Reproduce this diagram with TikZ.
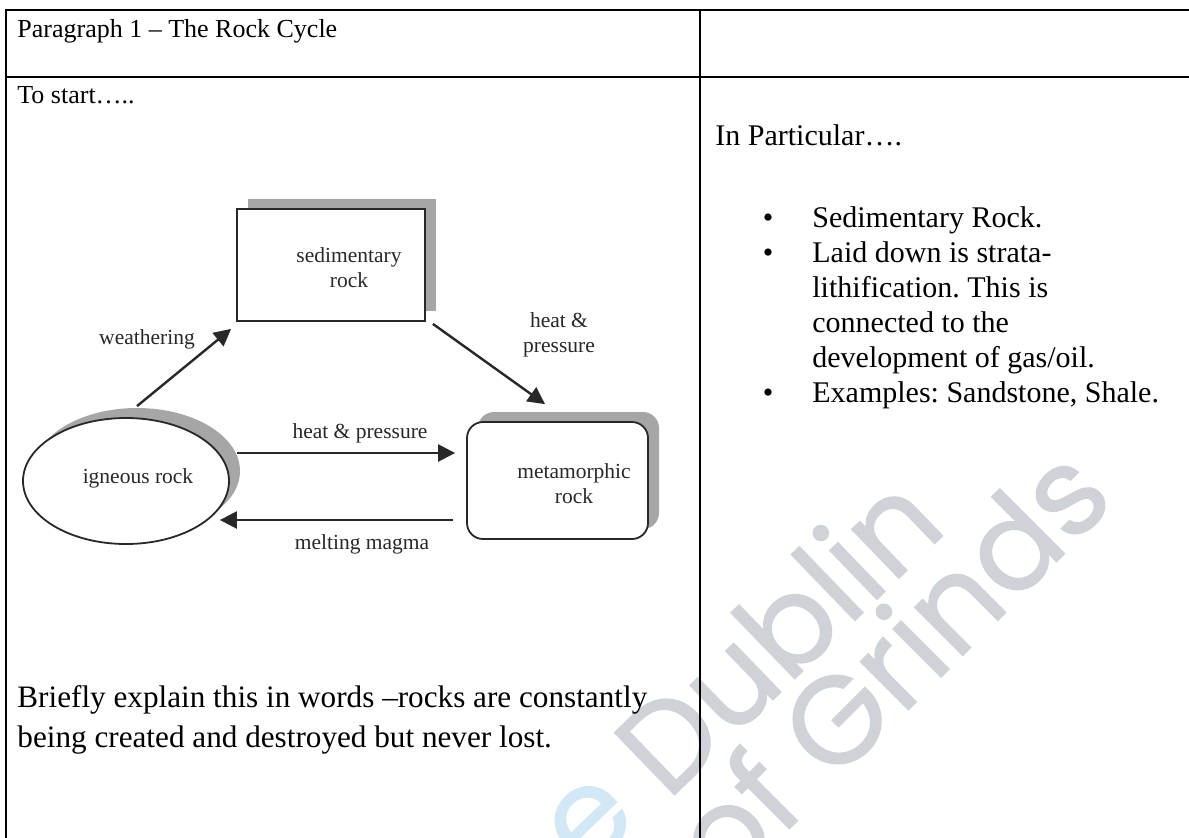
\documentclass[tikz,border=0pt]{standalone}
\usepackage{fontspec}
\setmainfont{Liberation Serif}
\newfontfamily\wmfont{Poppins}[FakeBold=1]
\usetikzlibrary{arrows.meta,shadows,calc,shapes.geometric}
\definecolor{wmgray}{RGB}{207,210,215}
\definecolor{wmblue}{RGB}{210,232,247}
\definecolor{shgray}{RGB}{166,166,166}
\definecolor{ink}{RGB}{40,40,40}
\frenchspacing
\begin{document}
\begin{tikzpicture}[x={(0.5pt,0)}, y={(0,-0.5pt)},
  rule/.style={line width=1.3pt, black},
  txtA/.style={font=\fontsize{13}{15}\selectfont, anchor=base west, inner sep=0pt},
  txtB/.style={font=\fontsize{15}{17.5}\selectfont, anchor=base west, inner sep=0pt},
  txtC/.style={font=\fontsize{15.6}{18}\selectfont, anchor=base west, inner sep=0pt},
  bul/.style={font=\fontsize{15}{17.5}\selectfont, anchor=base, inner sep=0pt},
  dlab/.style={font=\fontsize{10.75}{12.5}\selectfont, text=ink, inner sep=0pt, align=center},
  rockbox/.style={draw=ink, line width=0.9pt, fill=white, inner sep=0pt,
    general shadow={fill=shgray, shadow xshift=5.5pt, shadow yshift=5pt}},
  arr/.style={draw=ink, line width=1.2pt, -{Triangle[length=8.5pt,width=8.5pt]}},
  wm/.style={font=\wmfont\fontsize{62}{62}\selectfont, text=wmgray, rotate=44, inner sep=0pt}
]
\clip (0,0) rectangle (1189,837);
\fill[white] (0,0) rectangle (1189,837);

% watermark
\node[wm] (wmD) at (776,632) {Dublin};
\node[wm, rotate=1] (wmG) at (888,664) {of Grinds};
\node[wm, text=wmblue] (wmE) at (590,822) {e};

% table rules
\draw[rule] (6,845) -- (6,10) -- (1195,10);
\draw[rule] (6,77) -- (1195,77);
\draw[rule] (700,10) -- (700,845);

% left column text
\node[txtA] (title) at (17,37) {Paragraph 1 – The Rock Cycle};
\node[txtA] (start) at (17,103) {To start…..};
\node[txtC] (brief1) at (17,707) {Briefly explain this in words –rocks are constantly};
\node[txtC] (brief2) at (17,747) {being created and destroyed but never lost.};

% right column text
\node[txtB] (inpart) at (715,145) {In Particular….};
\node[bul] (b1) at (768,227) {•};
\node[txtB] (b1t) at (812,227) {Sedimentary Rock.};
\node[bul] (b2) at (768,262) {•};
\node[txtB] (b2a) at (812,262) {Laid down is strata-};
\node[txtB] (b2b) at (812,297) {lithification. This is};
\node[txtB] (b2c) at (812,332) {connected to the};
\node[txtB] (b2d) at (812,367) {development of gas/oil.};
\node[bul] (b3) at (768,402) {•};
\node[txtB] (b3t) at (812,402) {Examples: Sandstone, Shale.};

% rock cycle diagram
\node[rockbox, minimum width=94pt, minimum height=56pt] (sed) at (331,265) {};
\node[dlab] (sedt) at (349,268) {sedimentary\\rock};
\node[rockbox, ellipse, minimum width=103pt, minimum height=63pt] (ign) at (126,481) {};
\node[dlab] (ignt) at (138,478) {igneous rock};
\node[rockbox, rounded corners=8pt, minimum width=90.5pt, minimum height=58.5pt] (met) at (557.5,480.5) {};
\node[dlab] (mett) at (574,484) {metamorphic\\rock};

\node[dlab] (lw) at (147,339) {weathering};
\node[dlab] (lhp) at (360,433) {heat \& pressure};
\node[dlab] (lhd) at (559,335) {heat \&\\pressure};
\node[dlab] (lmm) at (362,544) {melting magma};

\draw[arr] ($(ign.north)+(11,-11)$) -- ($(sed.south west)+(-5,7)$);
\draw[arr] ($(sed.south east)+(7,2)$) -- ($(met.north)+(-12.5,-17)$);
\draw[arr] ($(ign.east)+(7,-28)$) -- ($(met.west)+(-11,-27.5)$);
\draw[arr] ($(met.west)+(-13,39.5)$) -- ($(ign.east)+(-10,39)$);
\end{tikzpicture}
\end{document}
